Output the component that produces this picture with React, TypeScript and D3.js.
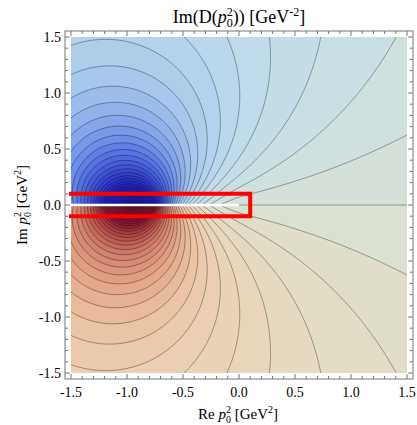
import React from "react";
import * as d3 from "d3";

const WIDTH = 417;
const HEIGHT = 425;

// ---- axes ----
const X_RANGE = [-1.5, 1.5];
const Y_RANGE = [-1.5, 1.5];
const X_TICKS = [-1.5, -1.0, -0.5, 0.0, 0.5, 1.0, 1.5];
const Y_TICKS = [-1.5, -1.0, -0.5, 0.0, 0.5, 1.0, 1.5];
const TICK_LABELS = ["-1.5", "-1.0", "-0.5", "0.0", "0.5", "1.0", "1.5"];
const MINOR_TICKS = [
  -1.4, -1.3, -1.2, -1.1, -0.9, -0.8, -0.7, -0.6, -0.4, -0.3, -0.2, -0.1,
  0.1, 0.2, 0.3, 0.4, 0.6, 0.7, 0.8, 0.9, 1.1, 1.2, 1.3, 1.4,
];

// ---- propagator model  D(z) = 1 / (z + m^2 - g z log z) ----
const MASS_SQ = 1.0;
const COUPLING = 0.1;
const CUT_X = [-1.5, 0.0]; // branch cut along the negative real axis
const BOX_X = [-1.5, 0.1]; // highlighted strip
const BOX_Y = [-0.1, 0.1];

// ---- contours & colours ----
const CONTOUR_STEP = 0.085;
const CONTOUR_COUNT = 40; // per sign
const COLOR_DOMAIN = [-2.1, 2.1];
const COLOR_POS = [0.0, 0.08, 0.18, 0.26, 0.33, 0.4, 0.46, 0.5, 0.54, 0.6, 0.67, 0.74, 0.82, 0.91, 1.0];
const COLOR_STOPS = [
  "#2424c0", "#2f3ccc", "#4f70e0", "#7fa3ea", "#a8c9ec", "#bcd9ea", "#cde0e2", "#d8e2d4",
  "#e2ddc8", "#e9d6bb", "#ebc6a4", "#e3a486", "#d2806a", "#b04a44", "#8a1a30",
];

const LEVELS: number[] = [];
for (let k = -CONTOUR_COUNT; k <= CONTOUR_COUNT; k++) LEVELS.push(k * CONTOUR_STEP);

const H = 0.0125;
const MARGIN = 3;
const FONT = "'Liberation Serif', 'Times New Roman', serif";

function imD(x: number, y: number, upper: boolean) {
  const r = Math.max(Math.hypot(x, y), 1e-12);
  const lnr = Math.log(r);
  let th = Math.atan2(y, x);
  if (upper && th < -Math.PI / 2) th += 2 * Math.PI;
  if (!upper && th > Math.PI / 2) th -= 2 * Math.PI;
  const zlRe = x * lnr - y * th;
  const zlIm = x * th + y * lnr;
  const dRe = x + MASS_SQ - COUPLING * zlRe;
  const dIm = y - COUPLING * zlIm;
  return -dIm / (dRe * dRe + dIm * dIm);
}

const colorT = d3.scaleLinear<string>().domain(COLOR_POS).range(COLOR_STOPS).interpolate(d3.interpolateRgb).clamp(true);
const colorOf = (v: number) => colorT((v - COLOR_DOMAIN[0]) / (COLOR_DOMAIN[1] - COLOR_DOMAIN[0]));

export default function App() {
  const xScale = d3.scaleLinear().domain(X_RANGE).range([71, 407]);
  const yScale = d3.scaleLinear().domain(Y_RANGE).range([373, 37]);
  const pad = 6;
  const fx0 = xScale(X_RANGE[0]) - pad;
  const fx1 = xScale(X_RANGE[1]) + pad;
  const fy0 = yScale(Y_RANGE[1]) - pad;
  const fy1 = yScale(Y_RANGE[0]) + pad;

  function buildHalf(upper: boolean) {
    const nx = Math.round((X_RANGE[1] - X_RANGE[0]) / H) + 2 * MARGIN + 1;
    const ny = Math.round(Y_RANGE[1] / H) + 2 * MARGIN + 1;
    const x0 = X_RANGE[0] - MARGIN * H;
    const yTop = upper ? Y_RANGE[1] + MARGIN * H : MARGIN * H;
    const values: number[] = new Array(nx * ny);
    let mn = Infinity, mx = -Infinity;
    for (let j = 0; j < ny; j++) {
      const y = yTop - j * H;
      for (let i = 0; i < nx; i++) {
        const v = imD(x0 + i * H, y, upper);
        values[j * nx + i] = v;
        if (v < mn) mn = v;
        if (v > mx) mx = v;
      }
    }
    const levels = LEVELS.filter((l) => l > mn && l < mx);
    const contours = d3.contours().size([nx, ny]).thresholds(levels)(values);
    const path = d3.geoPath(
      d3.geoTransform({
        point(px: number, py: number) {
          (this as any).stream.point(xScale(x0 + (px - 0.5) * H), yScale(yTop - (py - 0.5) * H));
        },
      })
    );
    const base = colorOf((levels.length ? levels[0] : mn) - CONTOUR_STEP / 2);
    return { contours, path, base };
  }

  const upperHalf = buildHalf(true);
  const lowerHalf = buildHalf(false);

  const halves = [
    { key: "up", data: upperHalf, y0: yScale(Y_RANGE[1]), y1: yScale(0) },
    { key: "lo", data: lowerHalf, y0: yScale(0), y1: yScale(Y_RANGE[0]) },
  ];

  const dataW = xScale(X_RANGE[1]) - xScale(X_RANGE[0]);

  return (
    <svg width={WIDTH} height={HEIGHT} style={{ display: "block", position: "absolute", left: 0, top: 0 }} fontFamily={FONT}>
      <rect x={0} y={0} width={WIDTH} height={HEIGHT} fill="#fff" />
      <defs>
        {halves.map((h) => (
          <clipPath id={`clip-${h.key}`} key={h.key}>
            <rect x={xScale(X_RANGE[0])} y={h.y0} width={dataW} height={h.y1 - h.y0} />
          </clipPath>
        ))}
      </defs>
      {halves.map((h) => (
        <g key={h.key} clipPath={`url(#clip-${h.key})`}>
          <rect x={xScale(X_RANGE[0])} y={h.y0} width={dataW} height={h.y1 - h.y0} fill={h.data.base} />
          {h.data.contours.map((c, i) => (
            <path key={"f" + i} d={h.data.path(c as any) || ""} fill={colorOf(c.value + CONTOUR_STEP / 2)} stroke="none" />
          ))}
          {h.data.contours.map((c, i) => (
            <path key={"s" + i} d={h.data.path(c as any) || ""} fill="none" stroke="#000" strokeOpacity={0.42} strokeWidth={0.8} />
          ))}
        </g>
      ))}
      {/* branch cut */}
      <line x1={xScale(CUT_X[0])} x2={xScale(CUT_X[1])} y1={yScale(0)} y2={yScale(0)} stroke="#fff" strokeWidth={2.5} />
      {/* highlighted strip */}
      <path
        d={`M${xScale(BOX_X[0])},${yScale(BOX_Y[1])}L${xScale(BOX_X[1])},${yScale(BOX_Y[1])}L${xScale(BOX_X[1])},${yScale(BOX_Y[0])}L${xScale(BOX_X[0])},${yScale(BOX_Y[0])}`}
        fill="none"
        stroke="#ff0000"
        strokeWidth={4}
        strokeLinecap="square"
      />
      {/* frame */}
      <rect x={fx0} y={fy0} width={fx1 - fx0} height={fy1 - fy0} fill="none" stroke="#777" strokeWidth={1} />
      {X_TICKS.map((t) => (
        <g key={"xt" + t} stroke="#777">
          <line x1={xScale(t)} x2={xScale(t)} y1={fy1} y2={fy1 - 5} />
          <line x1={xScale(t)} x2={xScale(t)} y1={fy0} y2={fy0 + 5} />
        </g>
      ))}
      {MINOR_TICKS.map((t) => (
        <g key={"xm" + t} stroke="#777">
          <line x1={xScale(t)} x2={xScale(t)} y1={fy1} y2={fy1 - 3} />
          <line x1={xScale(t)} x2={xScale(t)} y1={fy0} y2={fy0 + 3} />
        </g>
      ))}
      {Y_TICKS.map((t) => (
        <g key={"yt" + t} stroke="#777">
          <line y1={yScale(t)} y2={yScale(t)} x1={fx0} x2={fx0 + 5} />
          <line y1={yScale(t)} y2={yScale(t)} x1={fx1} x2={fx1 - 5} />
        </g>
      ))}
      {MINOR_TICKS.map((t) => (
        <g key={"ym" + t} stroke="#777">
          <line y1={yScale(t)} y2={yScale(t)} x1={fx0} x2={fx0 + 3} />
          <line y1={yScale(t)} y2={yScale(t)} x1={fx1} x2={fx1 - 3} />
        </g>
      ))}
      {X_TICKS.map((t, i) => (
        <text key={"xl" + t} x={xScale(t)} y={fy1 + 18} textAnchor="middle" fontSize={14} fill="#000">
          {TICK_LABELS[i]}
        </text>
      ))}
      {Y_TICKS.map((t, i) => (
        <text key={"yl" + t} x={fx0 - 4} y={yScale(t) + 5} textAnchor="end" fontSize={14} fill="#000">
          {TICK_LABELS[i]}
        </text>
      ))}
      {/* title */}
      <text x={239} y={23} textAnchor="middle" fontSize={18} fill="#000">
        Im(D(<tspan fontStyle="italic">p</tspan>
        <tspan fontSize={12} dy={4}>0</tspan>
        <tspan fontSize={12} dx={-6} dy={-11}>2</tspan>
        <tspan dy={7}>)) [GeV</tspan>
        <tspan fontSize={12} dy={-7}>-2</tspan>
        <tspan dy={7}>]</tspan>
      </text>
      {/* x label */}
      <text x={238} y={419} textAnchor="middle" fontSize={15} fill="#000">
        Re <tspan fontStyle="italic">p</tspan>
        <tspan fontSize={10} dy={4}>0</tspan>
        <tspan fontSize={10} dx={-5} dy={-10}>2</tspan>
        <tspan dy={6}> [GeV</tspan>
        <tspan fontSize={10} dy={-6}>2</tspan>
        <tspan dy={6}>]</tspan>
      </text>
      {/* y label */}
      <text transform={`translate(27,${yScale(0)}) rotate(-90)`} textAnchor="middle" fontSize={15} fill="#000">
        Im <tspan fontStyle="italic">p</tspan>
        <tspan fontSize={10} dy={4}>0</tspan>
        <tspan fontSize={10} dx={-5} dy={-10}>2</tspan>
        <tspan dy={6}> [GeV</tspan>
        <tspan fontSize={10} dy={-6}>2</tspan>
        <tspan dy={6}>]</tspan>
      </text>
    </svg>
  );
}
